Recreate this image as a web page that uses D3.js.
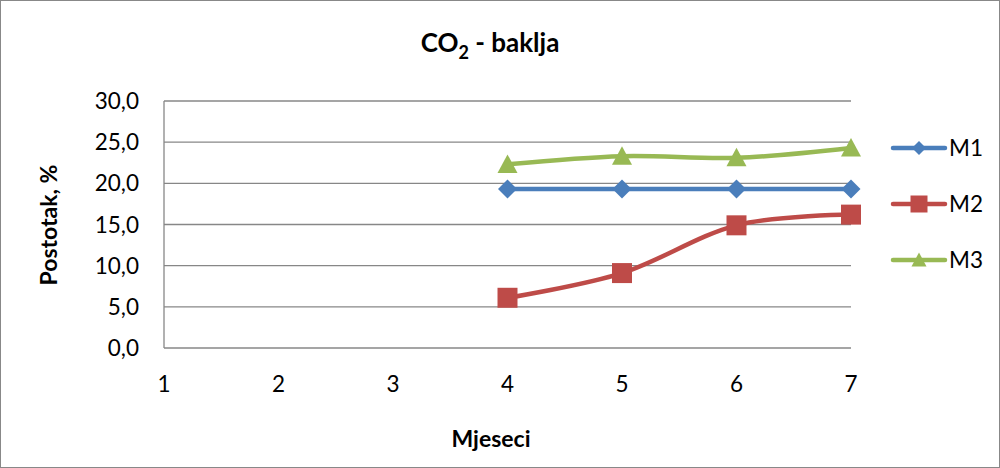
<!DOCTYPE html>
<html><head><meta charset="utf-8">
<script src="https://cdn.jsdelivr.net/npm/d3@7"></script>
<style>body{margin:0;background:#fff;} svg{display:block;font-family:Lato,"Open Sans",sans-serif;}</style>
</head><body><svg id="c" width="1000" height="468"></svg>
<script>
const months = [1,2,3,4,5,6,7];
const m1 = [null,null,null,19.3,19.3,19.3,19.3];
const m2 = [null,null,null,6.1,9.1,14.9,16.2];
const m3 = [null,null,null,22.3,23.3,23.1,24.3];
const yTicks = [0,5,10,15,20,25,30];
const seriesNames = ["M1","M2","M3"];
const colors = ["#4a7ebb","#be4b48","#98b954"];
const seriesData = [m1,m2,m3];

const svg = d3.select("#c");
svg.append("rect").attr("x",0.5).attr("y",0.5).attr("width",999).attr("height",467)
  .attr("fill","#fff").attr("stroke","#888").attr("stroke-width",1);

const x = d3.scalePoint().domain(months).range([164,851]);
const y = d3.scaleLinear().domain([0,30]).range([348,101]);

svg.append("g").selectAll("line").data(yTicks).join("line")
  .attr("x1",164).attr("x2",851).attr("y1",d=>y(d)).attr("y2",d=>y(d))
  .attr("stroke","#878787").attr("stroke-width",1.3);
svg.append("line").attr("x1",164).attr("x2",164).attr("y1",101).attr("y2",348)
  .attr("stroke","#878787").attr("stroke-width",1.3);

const fmt = d => d.toFixed(1).replace(".",",");
svg.append("g").selectAll("text").data(yTicks).join("text")
  .attr("x",139).attr("y",d=>y(d)+8).attr("text-anchor","end")
  .attr("font-size",22.5).attr("fill","#000").text(fmt);
svg.append("g").selectAll("text").data(months).join("text")
  .attr("x",d=>x(d)).attr("y",392).attr("text-anchor","middle")
  .attr("font-size",22.5).attr("fill","#000").text(d=>d);

const t = svg.append("text").attr("x",490).attr("y",52).attr("text-anchor","middle")
  .attr("font-size",26).attr("font-weight","bold");
t.append("tspan").text("CO");
t.append("tspan").attr("font-size",18).attr("dy",7).text("2");
t.append("tspan").attr("dy",-7).text(" - baklja");
svg.append("text").attr("x",491).attr("y",447).attr("text-anchor","middle")
  .attr("font-size",23).attr("font-weight","bold").text("Mjeseci");
svg.append("text").attr("transform","translate(57,225) rotate(-90)").attr("text-anchor","middle")
  .attr("font-size",23).attr("font-weight","bold").text("Postotak, %");

// marker shapes: diamond (rotated square), square, triangle; r = half-extent
function marker(i, r){
  if(i===0) return `M0,${-r}L${r},0L0,${r}L${-r},0Z`;
  if(i===1) return `M${-r},${-r}H${r}V${r}H${-r}Z`;
  return `M0,${-r}L${r},${r*0.85}H${-r}Z`;
}
const line = d3.line().defined(d=>d[1]!==null).x(d=>x(d[0])).y(d=>y(d[1]))
  .curve(d3.curveCatmullRom.alpha(0));
const mr = [9.5,10,10];
seriesData.forEach((s,i)=>{
  const pts = months.map((m,j)=>[m,s[j]]);
  svg.append("path").attr("d",line(pts)).attr("fill","none").attr("stroke",colors[i])
    .attr("stroke-width",4.5).attr("stroke-linecap","round");
  svg.append("g").selectAll("path").data(pts.filter(d=>d[1]!==null)).join("path")
    .attr("transform",d=>`translate(${x(d[0])},${y(d[1])})`)
    .attr("d",marker(i,mr[i])).attr("fill",colors[i]);
});

const ly = [148,204,260];
const lr = [7,8.5,7.5];
seriesNames.forEach((n,i)=>{
  const g = svg.append("g").attr("transform",`translate(0,${ly[i]})`);
  g.append("line").attr("x1",893).attr("x2",945).attr("stroke",colors[i]).attr("stroke-width",4.5).attr("stroke-linecap","round");
  g.append("path").attr("transform","translate(919,0)").attr("d",marker(i,lr[i])).attr("fill",colors[i]);
  g.append("text").attr("x",949).attr("y",8).attr("font-size",22.5).text(n);
});
</script></body></html>
